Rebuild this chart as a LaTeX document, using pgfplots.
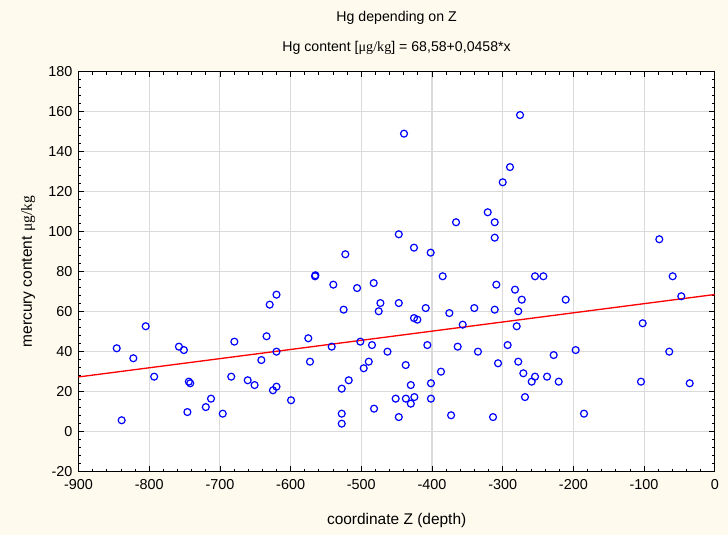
\documentclass[border=0pt]{standalone}
\usepackage{fontspec}
\setmainfont{Liberation Sans}
\newfontfamily\tnr{Liberation Serif}
\usepackage{pgfplots}
\pgfplotsset{compat=1.18}
\definecolor{bgcream}{RGB}{254,250,238}
\definecolor{gridgray}{RGB}{218,218,218}

\pgfplotstableread{
z hg
-846 41.7
-839 5.7
-822.5 36.7
-805 52.7
-793 27.5
-758 42.5
-751 40.8
-744 25
-742 24.2
-746 9.8
-720 12.3
-712.6 16.5
-696 9
-684 27.5
-679.6 45
-660.7 25.7
-651 23.3
-641.4 35.8
-634 47.7
-629.6 63.5
-620 68.5
-620 40
-625 20.7
-620 22.5
-599.4 15.7
-575 46.7
-572.6 35
-565.5 77.7
-565 78.2
-541.9 42.5
-539.6 73.5
-527.7 21.5
-527.7 9
-527.7 4
-525 61
-522.6 88.7
-517.8 25.7
-506 71.8
-501.4 45
-496.6 31.7
-489.5 35
-484.9 43.3
-482.5 74.3
-482 11.5
-475.4 60.2
-473 64.3
-463 40
-451.4 16.5
-447 98.7
-447 64.3
-447 7.3
-439.6 149
-437.2 33.3
-437 16.5
-430 23.3
-430 14
-425.5 92
-425.5 56.8
-420.7 56
-425 17.3
-408.9 61.8
-406.6 43.3
-401.9 89.5
-401.5 24.2
-401.5 16.5
-387.3 30
-384.9 77.7
-375.5 59.3
-373 8.2
-366 104.7
-363.7 42.5
-356.6 53.5
-340.2 61.8
-335 40
-321.2 109.7
-311.3 104.7
-311.3 97
-311.3 61
-313.7 7.3
-309 73.5
-306.6 34.2
-300 124.7
-293 43.3
-289.7 132.3
-275.5 158.3
-282.6 71
-273 66
-278 60.2
-280.2 52.7
-278 35
-270.8 29.2
-268.5 17.3
-259 25
-254.3 27.5
-254.3 77.7
-242.5 77.7
-237.3 27.5
-227.9 38.3
-220.8 25
-210.9 66
-196.8 40.8
-185 9
-104.4 25
-102 54.2
-78.5 96.2
-64.4 40
-59.6 77.7
-47.4 67.7
-35.5 24.2
}\hgdata

\begin{document}
\begin{tikzpicture}[x=0.75pt,y=0.75pt]
% page background, 728 x 535 px
\fill[bgcream] (0,0) rectangle (728,535);
\begin{axis}[
  at={(58.9pt,47.5pt)}, anchor=south west,
  scale only axis,
  width=477.2pt, height=300pt,
  xmin=-900, xmax=0, ymin=-20, ymax=180,
  xtick={-900,-800,...,0}, ytick={-20,0,...,180},
  minor x tick num=4, minor y tick num=4,
  major tick length=4pt, minor tick length=2.2pt,
  tick style={black, line width=0.6pt},
  grid=major,
  major grid style={gridgray, line width=0.8pt},
  axis line style={black, line width=0.8pt},
  axis background/.style={fill=white},
  ticklabel style={font=\fontsize{10.8}{12}\selectfont},
  /pgf/number format/assume math mode=true,
  /pgf/number format/.cd, 1000 sep={}, /pgfplots/.cd,
  xticklabel style={yshift=-2pt},
  yticklabel style={xshift=-1pt},
  xlabel={coordinate Z (depth)},
  ylabel={mercury content {\tnr μg/kg}},
  label style={font=\fontsize{11.6}{13}\selectfont},
  x label style={at={(axis description cs:0.5,-0.123)}, anchor=center},
  y label style={at={(axis description cs:-0.079,0.5)}, anchor=center},
  clip=false,
]
\addplot[red, line width=1pt] coordinates {(-900,27.358) (0,68.58)};
\addplot[only marks, mark=o, mark size=2.6pt, blue,
  mark options={line width=0.9pt}] table[x=z, y=hg] {\hgdata};
\end{axis}
\node[font=\fontsize{10.6}{12}\selectfont] at (396.6,517) {Hg depending on Z};
\node[font=\fontsize{10.6}{12}\selectfont] at (396.6,487) {Hg content [{\tnr μg/kg}] = 68,58+0,0458*x};
\end{tikzpicture}
\end{document}
